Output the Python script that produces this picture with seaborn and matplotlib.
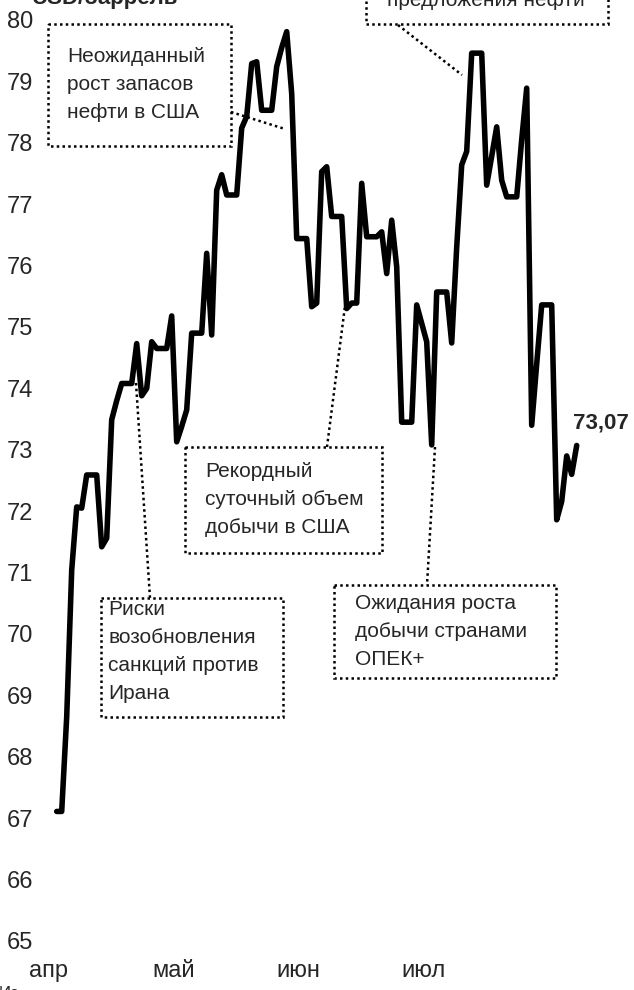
import matplotlib
matplotlib.use("Agg")
import matplotlib.pyplot as plt
import seaborn as sns
from matplotlib.transforms import Affine2D
from matplotlib.patches import Rectangle
from matplotlib.lines import Line2D

# Brent, USD/bbl, daily (calendar days, weekends carried forward), 7 Apr - 20 Jul
price = [
    67.11, 67.11, 68.65, 71.04, 72.07, 72.05, 72.59, 72.59, 72.59,
    71.42, 71.56, 73.49, 73.80, 74.08, 74.08, 74.08, 74.73, 73.88, 74.00,
    74.76, 74.65, 74.65, 74.65, 75.18, 73.13, 73.38, 73.65, 74.90, 74.90,
    74.90, 76.20, 74.87, 77.23, 77.48, 77.15, 77.15, 77.15, 78.24, 78.43,
    79.29, 79.32, 78.53, 78.53, 78.53, 79.24, 79.55, 79.81, 78.80, 76.44,
    76.44, 76.44, 75.33, 75.39, 77.53, 77.61, 76.80, 76.80, 76.80, 75.30,
    75.39, 75.39, 77.34, 76.47, 76.47, 76.47, 76.55, 75.87, 76.74, 75.98,
    73.45, 73.45, 73.45, 75.36, 75.06, 74.76, 73.08, 75.57, 75.57, 75.57,
    74.74, 76.30, 77.64, 77.86, 79.46, 79.46, 79.46, 77.31, 77.78, 78.26,
    77.39, 77.12, 77.12, 77.12, 78.05, 78.89, 73.40, 74.40, 75.36, 75.36,
    75.36, 71.86, 72.16, 72.90, 72.60, 73.07,
]
day = list(range(len(price)))

month_pos = [-1.6, 23.4, 48.4, 73.4]
month_lbl = ["апр", "май", "июн", "июл"]
y_ticks = list(range(65, 81))

notes = {
    "stocks": "Неожиданный\nрост запасов\nнефти в США",
    "supply": "предложения нефти",
    "record": "Рекордный\nсуточный объем\nдобычи в США",
    "iran": "Риски\nвозобновления\nсанкций против\nИрана",
    "opec": "Ожидания роста\nдобычи странами\nОПЕК+",
}

sns.set_style("white")
plt.rcParams["font.family"] = ["Liberation Sans", "DejaVu Sans"]

W, H = 634, 990
fig = plt.figure(figsize=(W / 100, H / 100), dpi=100)
ax = fig.add_axes([40 / W, 1 - 941 / H, 560 / W, 921 / H])

sns.lineplot(x=day, y=price, ax=ax, color="black", lw=4, solid_joinstyle="round")

ax.set_xlim(-3.34, 108.66)
ax.set_ylim(65, 80)
ax.set_yticks(y_ticks)
ax.set_yticklabels([str(t) for t in y_ticks], fontsize=17)
ax.set_xticks(month_pos)
ax.set_xticklabels(month_lbl, fontsize=17)
ax.tick_params(axis="y", length=0, pad=5)
ax.tick_params(axis="x", length=0, pad=14)
ax.set_xlabel("")
ax.set_ylabel("")
for s in ax.spines.values():
    s.set_visible(False)

ax.text(day[-1] - 0.7, price[-1] + 0.2, "73,07", fontsize=16,
        fontweight="bold", ha="left", va="bottom")

# pixel coordinates (top-left origin) for the callouts
pix = Affine2D().scale(1 / W, -1 / H).translate(0, 1) + fig.transFigure
dots = (0, (1, 1.3))


def box(x0, y0, x1, y1):
    fig.add_artist(Rectangle((x0, y0), x1 - x0, y1 - y0, transform=pix,
                             fill=False, ec="black", lw=1.8, ls=dots))


def leader(x0, y0, x1, y1):
    fig.add_artist(Line2D([x0, x1], [y0, y1], transform=pix,
                          color="black", lw=1.8, ls=dots))


def note(x, y, s):
    fig.text(x, y, s, transform=pix, fontsize=15, ha="left", va="top",
             linespacing=1.6)


box(48, 24, 231, 146)
note(67, 47, notes["stocks"])
leader(231, 112, 285, 129)

box(366, -60, 608, 24)
fig.text(387, 6, notes["supply"], transform=pix, fontsize=15,
         ha="left", va="baseline")
leader(398, 25, 462, 75)

box(185, 447, 382, 553)
note(205, 462, notes["record"])
leader(327, 447, 345, 306)

box(101, 598, 283, 717)
note(108, 600, notes["iran"])
leader(136, 383, 150, 598)

box(334, 585, 556, 678)
note(355, 594, notes["opec"])
leader(435, 447, 427, 585)

fig.text(32, 4, "USD/баррель", transform=pix, fontsize=16,
         fontweight="bold", ha="left", va="baseline")
fig.text(-1, 998, "Ис", transform=pix, fontsize=12, ha="left",
         va="baseline")

fig.savefig("out.png", dpi=100)
